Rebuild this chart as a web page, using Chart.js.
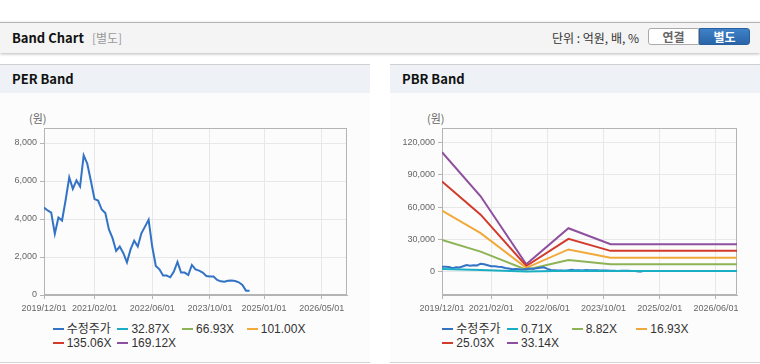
<!DOCTYPE html>
<html><head><meta charset="utf-8">
<script src="https://cdn.jsdelivr.net/npm/chart.js@4.4.0/dist/chart.umd.min.js"></script>
<style>
body{margin:0;width:760px;height:364px;position:relative;background:#fff;font-family:"Noto Sans CJK KR","Noto Sans",sans-serif;overflow:hidden}
.top{position:absolute;left:0;top:22px;width:760px;height:30px;background:#f4f4f4;border-top:1px solid #b5b5b5;box-shadow:0 1px 3px rgba(0,0,0,.28)}
.title{position:absolute;left:12px;top:0;line-height:30px;font-size:13px;font-weight:bold;color:#111}
.sub{font-weight:normal;color:#999;font-size:12px;margin-left:8px}
.unit{position:absolute;left:552px;top:0;line-height:30px;font-size:12px;color:#333}
.btn{position:absolute;top:5px;height:17px;width:51px;box-sizing:border-box;font-size:12px;font-weight:bold;text-align:center;line-height:15px}
.b1{left:648px;background:#fff;border:1px solid #aaa;border-radius:3px 0 0 3px;color:#666}
.b2{left:699px;background:linear-gradient(#3f82c8,#2a64a8);border:1px solid #2a5f9e;border-radius:0 3px 3px 0;color:#fff}
.panel{position:absolute;top:64px;width:370px;height:298px;background:#fcfcfc;border-bottom:1px solid #d4d4d4}
.ph{position:absolute;left:0;top:0;width:100%;height:28px;background:#eef2f7;border-top:1px solid #d0d0d0}
.pt{position:absolute;left:12px;top:0;line-height:28px;font-size:13px;font-weight:bold;color:#111}
.won{position:absolute;top:46px;font-size:11px;color:#666;line-height:16px}
canvas{position:absolute;top:36px;left:0}
.legend{position:absolute;top:259px;width:270px;font-family:"Liberation Sans","Noto Sans CJK KR",sans-serif;font-size:12px;color:#333}
.li{display:inline-block;width:64.7px;height:13.3px;line-height:13.3px;white-space:nowrap;vertical-align:top}
.sw{display:inline-block;width:11px;height:2px;vertical-align:middle;margin-right:3px;position:relative;top:-1px}
</style></head><body>
<div class="top"><div class="title">Band Chart<span class="sub">[별도]</span></div>
<div class="unit">단위 : 억원, 배, %</div>
<div class="btn b1">연결</div><div class="btn b2">별도</div></div>
<div class="panel" style="left:0"><div class="ph"><div class="pt">PER Band</div></div>
<div class="won" style="left:29px">(원)</div>
<canvas id="per" width="370" height="220"></canvas>
<div class="legend" id="perLeg" style="left:52.7px"></div></div>
<div class="panel" style="left:390px"><div class="ph"><div class="pt">PBR Band</div></div>
<div class="won" style="left:37px">(원)</div>
<canvas id="pbr" width="370" height="220"></canvas>
<div class="legend" id="pbrLeg" style="left:52.3px"></div></div>
<script>
// ---- data ----
const startDate = '2019/12/01';
const endDate = '2026/12/01';
// monthly adjusted price (수정주가) from 2019/12
const price = [4600,4450,4340,3220,4080,3920,5000,6190,5590,6030,5710,7350,6910,6000,5050,4970,4500,4310,3450,2990,
  2320,2550,2200,1720,2400,2860,2550,3250,3600,3960,2550,1530,1350,1020,1020,930,1230,1740,1180,1180,
  1050,1580,1350,1280,1180,1000,980,970,790,720,700,750,760,740,670,530,230,230];
const perLabels = ['수정주가','32.87X','66.93X','101.00X','135.06X','169.12X'];
const pbrLabels = ['수정주가','0.71X','8.82X','16.93X','25.03X','33.14X'];
const colors = ['#3273c6','#1aaec4','#8db356','#f2a93b','#d23a2c','#8e4f9e'];
const perTicks = ['2019/12/01','2021/02/01','2022/06/01','2023/10/01','2025/01/01','2026/05/01'];
const pbrTicks = ['2019/12/01','2021/02/01','2022/06/01','2023/10/01','2025/02/01','2026/06/01'];
const perYTicks = [0,2000,4000,6000,8000];
const pbrYTicks = [0,30000,60000,90000,120000];
const bandDates = ['2019/12/01','2020/11/01','2021/12/01','2022/12/01','2023/12/01','2026/12/01'];
const pbrBand1 = [2380,1500,150,860,550,550];        // 0.71X
const pbrBand2 = [29500,18600,1840,10700,6800,6800];   // 8.82X
const pbrBand3 = [56700,35800,3500,20600,13000,13000]; // 16.93X
const pbrBand4 = [83800,52900,5200,30400,19300,19300]; // 25.03X
const pbrBand5 = [111000,70000,6900,40300,25500,25500]; // 33.14X

// ---- helpers ----
function mIdx(s){const p=s.split('/');const s0=startDate.split('/');return (+p[0]-+s0[0])*12+(+p[1]-+s0[1]);}
const xMax = mIdx(endDate);
const pricePts = price.map((v,i)=>({x:i,y:v}));
const bandPts = arr => arr.map((v,i)=>({x:mIdx(bandDates[i]),y:v}));
const fmt = v => Math.round(v).toString().replace(/\B(?=(\d{3})+(?!\d))/g, ',');

const boxPlugin = {id:'box', beforeDatasetsDraw(c){const a=c.chartArea,ctx=c.ctx;ctx.save();ctx.strokeStyle='#b4b4b4';ctx.lineWidth=1;
  ctx.strokeRect(Math.round(a.left)+0.5,Math.round(a.top)+0.5,Math.round(a.right-a.left)-1,Math.round(a.bottom-a.top)-1);ctx.restore();}};

function makeChart(id, datasets, xTicks, yTicks, yMin, yMax, yWidth){
  return new Chart(document.getElementById(id), {
    type:'line',
    data:{datasets},
    plugins:[boxPlugin],
    options:{
      responsive:false, animation:false, devicePixelRatio:1,
      layout:{padding:{top:28,right:23,left:0,bottom:0}},
      plugins:{legend:{display:false},tooltip:{enabled:false}},
      elements:{point:{radius:0},line:{borderWidth:2,tension:0}},
      scales:{
        x:{type:'linear',min:0,max:xMax,
          afterBuildTicks:s=>{s.ticks=xTicks.map(t=>({value:mIdx(t)}));},
          afterFit:s=>{s.height=25;s.paddingLeft=0;s.paddingRight=0;},
          grid:{color:'#e8e8e8',tickColor:'#b4b4b4',tickLength:4},
          border:{color:'#b4b4b4'},
          ticks:{autoSkip:false,maxRotation:0,padding:4,color:'#666',font:{family:'Liberation Sans',size:9},
            callback:(v)=>{const i=xTicks.findIndex(t=>mIdx(t)===v);return i>=0?xTicks[i]:'';}}},
        y:{min:yMin,max:yMax,
          afterBuildTicks:s=>{s.ticks=yTicks.map(t=>({value:t}));},
          afterFit:s=>{s.width=yWidth;s.paddingTop=0;s.paddingBottom=0;},
          grid:{color:'#e8e8e8',tickColor:'#b4b4b4',tickLength:4},
          border:{color:'#b4b4b4'},
          ticks:{padding:3,color:'#666',font:{family:'Liberation Sans',size:9},callback:v=>fmt(v)}}
      }
    }
  });
}

const perSets = perLabels.map((l,i)=>({label:l,data:i===0?pricePts:[],borderColor:colors[i],backgroundColor:colors[i]}));
makeChart('per', perSets, perTicks, perYTicks, 0, 8790, 44);

const pbrBands = [pbrBand1,pbrBand2,pbrBand3,pbrBand4,pbrBand5];
const pbrSets = pbrLabels.map((l,i)=>({label:l,data:i===0?pricePts:bandPts(pbrBands[i-1]),borderColor:colors[i],backgroundColor:colors[i]}));
// draw bands first, price on top? reference shows price under teal; keep order with price last-drawn under via order
pbrSets.forEach((d,i)=>{d.order = i===1?0:(i===0?1:i+1);});
makeChart('pbr', pbrSets, pbrTicks, pbrYTicks, -21700, 133400, 52);

function legend(id, labels){
  const el=document.getElementById(id);
  labels.forEach((l,i)=>{const d=document.createElement('span');d.className='li';
    d.innerHTML='<span class="sw" style="background:'+colors[i]+'"></span>'+l;el.appendChild(d);});
}
legend('perLeg', perLabels);
legend('pbrLeg', pbrLabels);
</script>
</body></html>
